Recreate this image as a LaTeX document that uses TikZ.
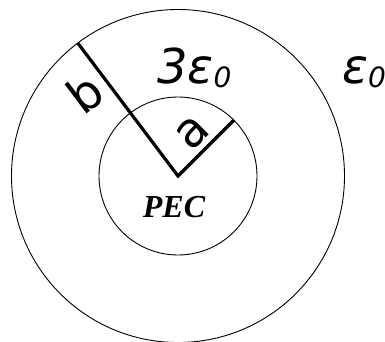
\documentclass[tikz,border=0pt]{standalone}
\usepackage{fontspec}
\newfontfamily\dvs{DejaVu Sans}
\newfontfamily\pecfont{Liberation Serif}
\begin{document}
\begin{tikzpicture}[x=1pt,y=1pt,
  ring/.style={draw, circle, line width=0.9pt, inner sep=0pt, outer sep=0pt},
  radius line/.style={line width=3.2pt, line join=miter},
  lab/.style={font=\dvs\fontsize{48}{50}\selectfont, inner sep=0pt},
  sym/.style={font=\dvs\itshape\fontsize{48}{50}\selectfont, inner sep=0pt, anchor=base west}]
\useasboundingbox (-178,-165) rectangle (207,176);
\node[ring, minimum size=333pt] (outer) at (0,0) {};
\node[ring, minimum size=158pt] (inner) at (0,0) {};
\coordinate (c) at (0,0);
\draw[radius line] (outer.127) -- (c) -- (inner.45);
\node[lab, rotate=45] (la) at (15,43) {a};
\node[lab, rotate=37] (lb) at (-93,83) {b};
\node[sym] (e3) at (-21,93) {3ε\raisebox{-4pt}{\fontsize{28}{29}\selectfont 0}};
\node[sym] (e1) at (164,93) {ε\raisebox{-4pt}{\fontsize{28}{29}\selectfont 0}};
\node[font=\pecfont\bfseries\itshape\fontsize{32}{34}\selectfont, inner sep=0pt, anchor=base] (pec) at (-4,-41) {PEC};
\end{tikzpicture}
\end{document}
